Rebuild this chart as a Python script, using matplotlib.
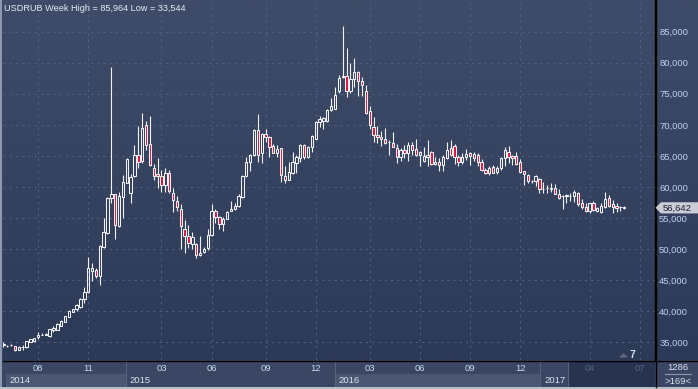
import numpy as np
import matplotlib
matplotlib.use('Agg')
import matplotlib.pyplot as plt
from matplotlib.patches import Rectangle, Polygon
from matplotlib.colors import LinearSegmentedColormap
import matplotlib.transforms as mtransforms
from matplotlib.lines import Line2D

plt.rcParams['font.family'] = ['Liberation Sans', 'DejaVu Sans']

# weekly USDRUB candles, one per week from mid 2014
opens = [
    34.55, 34.4, 34.5, 34.4, 33.8, 34.2, 34.2, 35.05, 35.15, 35.8,
    36.2, 36.25, 36.0, 36.9, 37.0, 37.7, 38.3, 39.1, 39.9, 40.3,
    40.7, 41.9, 43.1, 46.5, 46.6, 45.7, 50.3, 52.6, 58.2, 58.9,
    53.8, 58.4, 60.7, 59.0, 61.7, 65.1, 64.2, 69.9, 67.0, 63.1,
    62.1, 61.8, 60.3, 62.2, 59.1, 57.8, 56.5, 53.3, 52.1, 50.9,
    50.9, 49.0, 49.5, 50.1, 52.3, 56.2, 55.2, 54.0, 54.9, 56.2,
    56.5, 57.0, 58.4, 61.8, 64.1, 65.1, 69.2, 65.4, 68.5, 68.1,
    66.6, 65.5, 66.2, 61.8, 61.2, 62.3, 63.9, 64.7, 66.7, 64.8,
    66.4, 67.8, 70.5, 70.7, 70.7, 72.4, 72.6, 75.5, 77.7, 77.9,
    75.5, 77.4, 78.5, 77.0, 75.4, 72.2, 69.6, 68.4, 68.1, 67.7,
    67.3, 67.1, 66.3, 64.8, 66.0, 65.5, 66.7, 66.1, 65.2, 64.2,
    64.8, 65.7, 63.7, 64.1, 63.5, 64.6, 66.2, 66.6, 64.9, 64.0,
    64.8, 65.4, 65.3, 65.2, 64.1, 62.8, 62.2, 63.2, 62.4, 63.0,
    64.6, 65.6, 65.0, 65.0, 64.0, 62.5, 62.0, 60.9, 61.0, 61.3,
    59.6, 59.8, 59.7, 59.8, 58.9, 58.5, 58.6, 58.6, 58.6, 59.0,
    57.4, 56.8, 56.2, 57.4, 56.1, 56.0, 56.8, 58.2, 57.2, 56.9,
    56.7, 56.7]
highs = [
    35.0, 34.6, 34.8, 34.45, 34.4, 34.6, 35.2, 35.6, 35.75, 36.6,
    36.5, 36.5, 37.2, 37.6, 38.1, 38.6, 39.3, 40.2, 40.4, 41.2,
    42.1, 43.9, 48.7, 47.8, 46.9, 50.7, 55.0, 58.4, 79.3, 58.9,
    59.2, 61.9, 64.6, 62.1, 66.8, 69.8, 71.9, 70.7, 71.4, 63.7,
    64.7, 62.8, 63.0, 62.8, 59.8, 58.6, 57.2, 54.7, 53.9, 52.8,
    51.0, 52.1, 50.3, 53.2, 57.3, 56.4, 55.4, 55.2, 56.2, 57.7,
    57.4, 58.9, 61.9, 64.8, 65.3, 69.4, 71.7, 68.7, 69.4, 68.2,
    66.9, 66.7, 66.3, 63.4, 64.0, 65.6, 65.1, 67.0, 66.9, 66.6,
    68.3, 70.6, 71.5, 71.3, 72.6, 74.4, 76.1, 78.0, 85.964, 82.4,
    79.9, 80.8, 78.6, 77.7, 76.4, 73.1, 71.3, 69.8, 69.0, 69.5,
    67.5, 68.9, 66.9, 66.2, 66.7, 67.2, 67.3, 67.8, 65.8, 66.5,
    67.5, 65.8, 64.9, 64.7, 65.1, 67.2, 67.6, 66.9, 65.1, 65.4,
    66.1, 65.6, 65.6, 65.4, 64.5, 63.0, 63.4, 63.5, 63.3, 64.8,
    66.5, 66.6, 65.1, 65.6, 64.5, 62.6, 62.1, 61.2, 61.9, 61.4,
    60.8, 60.4, 60.6, 60.5, 59.6, 58.7, 58.8, 59.0, 59.5, 59.2,
    58.1, 57.4, 57.5, 57.7, 56.8, 57.4, 59.2, 58.7, 57.9, 57.4,
    57.0, 56.9]
lows = [
    34.3, 34.3, 34.4, 33.544, 33.7, 33.8, 34.1, 35.0, 35.1, 35.6,
    36.1, 36.1, 35.9, 36.6, 36.9, 37.6, 38.2, 39.0, 39.8, 40.1,
    40.6, 41.3, 42.9, 44.9, 45.3, 44.2, 50.1, 52.5, 57.5, 51.7,
    53.5, 55.0, 60.6, 57.4, 61.6, 63.0, 63.9, 66.0, 63.3, 61.1,
    59.8, 59.2, 59.2, 59.0, 56.0, 56.2, 50.0, 49.3, 50.1, 50.0,
    48.5, 48.9, 49.3, 49.9, 52.1, 54.2, 53.2, 52.9, 54.8, 56.1,
    56.3, 56.7, 58.3, 61.6, 62.6, 65.0, 64.1, 63.8, 67.3, 64.9,
    65.4, 64.8, 60.8, 60.7, 61.1, 62.1, 62.3, 64.1, 64.5, 64.7,
    65.7, 67.7, 69.6, 69.3, 70.5, 72.3, 72.5, 75.1, 77.6, 74.5,
    75.2, 76.1, 74.6, 74.6, 71.8, 69.4, 67.2, 67.1, 66.6, 66.9,
    65.2, 66.4, 63.9, 64.2, 64.7, 64.2, 65.2, 65.0, 63.3, 64.1,
    63.3, 63.5, 63.5, 62.6, 62.6, 64.5, 65.0, 63.7, 63.4, 63.7,
    64.3, 63.6, 64.2, 63.4, 62.6, 62.1, 61.9, 62.2, 62.1, 62.8,
    63.3, 63.9, 63.5, 63.5, 62.2, 60.3, 60.7, 60.7, 60.1, 59.1,
    59.0, 59.0, 59.2, 58.8, 58.1, 56.5, 57.4, 57.7, 57.6, 57.0,
    56.5, 55.9, 55.8, 56.1, 55.9, 55.8, 56.6, 56.7, 55.8, 55.9,
    56.1, 56.4]
closes = [
    34.65, 34.45, 34.6, 33.7, 34.3, 34.25, 35.15, 35.5, 35.7, 36.2,
    36.25, 36.3, 37.1, 37.3, 38.0, 38.5, 39.2, 40.1, 40.3, 41.0,
    42.0, 43.1, 46.9, 46.9, 45.7, 50.5, 52.8, 58.2, 58.9, 53.9,
    58.5, 60.8, 64.5, 61.6, 65.1, 64.1, 69.5, 66.8, 63.5, 61.7,
    61.7, 60.3, 62.2, 59.3, 57.9, 56.7, 53.7, 52.1, 51.0, 51.9,
    49.0, 49.4, 50.0, 52.3, 56.2, 55.2, 54.0, 54.8, 56.0, 56.4,
    57.0, 58.6, 61.8, 64.0, 65.1, 69.2, 65.2, 68.5, 68.0, 66.5,
    65.5, 66.1, 61.9, 61.1, 62.4, 64.0, 64.8, 66.8, 64.8, 66.5,
    68.2, 70.5, 71.0, 71.1, 72.4, 73.0, 74.8, 77.6, 77.8, 75.4,
    77.4, 78.5, 77.0, 76.4, 71.9, 70.0, 68.4, 68.1, 67.7, 67.1,
    67.2, 66.5, 64.8, 66.0, 65.4, 66.8, 66.0, 65.2, 65.6, 65.0,
    65.1, 63.7, 64.0, 63.6, 64.9, 66.0, 65.2, 64.8, 64.0, 64.8,
    65.3, 65.0, 64.6, 64.1, 62.8, 62.3, 63.1, 62.3, 63.0, 64.6,
    66.0, 64.8, 64.7, 63.7, 62.4, 62.1, 60.9, 61.0, 61.7, 59.6,
    59.7, 59.8, 59.8, 58.9, 58.2, 58.6, 58.7, 58.6, 59.2, 57.3,
    56.8, 56.2, 57.4, 56.3, 56.6, 56.9, 58.0, 56.9, 56.8, 56.6,
    56.7, 56.642]

# axis labelling (positions given as candle index)
month_ticks = [9, 22, 41, 54, 68, 81, 95, 108, 121, 134, 152, 165]
month_labels = ['08', '11', '03', '06', '09', '12', '03', '06', '09', '12', '04', '07']
year_starts = [0.7, 31.8, 86.0, 139.2]
year_labels = ['2014', '2015', '2016', '2017']
future_start = 146.4
price_ticks = [35, 40, 45, 50, 55, 60, 65, 70, 75, 80, 85]

W, H = 698, 389
def fx(px): return px / W
def fy(py): return 1 - py / H

BAND = '#3a4663'
GRID = '#53617f'
WHITE = '#f2f2f2'
RED = '#e2143c'
LBLUE = '#bcd2f0'

fig = plt.figure(figsize=(W / 100, H / 100), dpi=100, facecolor=BAND)

# gradient background for plot + price panel
bg = fig.add_axes([fx(3), fy(360), fx(698) - fx(3), fy(0) - fy(360)])
cmap = LinearSegmentedColormap.from_list('bg', ['#3f4c69', '#2c3957'])
bg.imshow(np.linspace(0, 1, 256).reshape(-1, 1), cmap=cmap, aspect='auto',
          extent=[0, 1, 0, 1], origin='upper')
bg.axis('off')

ax = fig.add_axes([fx(3), fy(360), fx(655) - fx(3), fy(0) - fy(360)])
ax.set_facecolor('none')
xlim = (-0.08, 168.96)
ax.set_xlim(xlim)
ax.set_ylim(32.15, 90.10)
for s in ['top', 'left', 'bottom']:
    ax.spines[s].set_visible(False)
ax.spines['right'].set_color('black')
ax.spines['right'].set_linewidth(1.0)

ax.set_xticks(month_ticks)
ax.tick_params(axis='x', length=0, labelbottom=False)
ax.yaxis.tick_right()
ax.set_yticks(price_ticks)
ax.set_yticklabels([f'{v:.3f}'.replace('.', ',') for v in price_ticks])
ax.tick_params(axis='y', length=0, pad=3, labelsize=6.8, labelcolor=LBLUE)
ax.grid(True, color=GRID, linestyle=(0, (2, 4)), linewidth=0.75)
ax.set_axisbelow(True)

# candles
bw = 0.62
for i, (o, h, l, c) in enumerate(zip(opens, highs, lows, closes)):
    lo, hi = min(o, c), max(o, c)
    ax.vlines(i, hi, h, color=WHITE, linewidth=0.8, zorder=3)
    ax.vlines(i, l, lo, color=WHITE, linewidth=0.8, zorder=3)
    face = 'none' if c >= o else RED
    ax.add_patch(Rectangle((i - bw / 2, lo), bw, hi - lo, facecolor=face,
                           edgecolor=WHITE, linewidth=0.75, zorder=4))

# last price tag
last = closes[-1]
bt = mtransforms.blended_transform_factory(fig.transFigure, ax.transData)
hh = 0.9
tag = Polygon([(fx(655.5), last), (fx(661), last + hh), (fx(698), last + hh),
               (fx(698), last - hh), (fx(661), last - hh)], closed=True,
              transform=bt, facecolor='#c9cdd6', edgecolor='none', zorder=10)
fig.add_artist(tag)
fig.text(fx(677), last, f'{last:.3f}'.replace('.', ','), transform=bt,
         ha='center', va='center', fontsize=6.8, color='#1c2030', zorder=11)

# time band
bx = fig.add_axes([fx(3), fy(387), fx(655) - fx(3), fy(361) - fy(387)])
bx.set_xlim(xlim)
bx.set_ylim(387, 361)
bx.axis('off')
bounds = year_starts + [future_start]
for k, (ys, yl) in enumerate(zip(year_starts, year_labels)):
    if k % 2 == 0:
        bx.add_patch(Rectangle((ys, 374), bounds[k + 1] - ys, 12.5,
                               facecolor='#4a5672', edgecolor='none'))
    if k > 0:
        bx.vlines(ys, 361, 387, color='#56627e', linewidth=0.8)
    bx.text(ys + 1.0, 380.5, yl, ha='left', va='center', fontsize=6.8,
            color='#dce4f2')
bx.add_patch(Rectangle((future_start, 361), xlim[1] - future_start, 26,
                       facecolor='#27334f', edgecolor='none'))
bx.vlines(future_start, 361, 387, color='#56627e', linewidth=0.8)
for t, lab in zip(month_ticks, month_labels):
    col = '#54647f' if t > future_start else '#c8d8f0'
    bx.text(t, 368.5, lab, ha='center', va='center', fontsize=6.8, color=col)

# frame lines
fig.add_artist(Line2D([fx(3), 1], [fy(360.5)] * 2, color='black', lw=1.0,
                      transform=fig.transFigure))
fig.add_artist(Line2D([fx(655.5)] * 2, [fy(387), 1], color='black', lw=1.0,
                      transform=fig.transFigure))
fig.add_artist(Rectangle((0, 0), fx(2), 1, transform=fig.transFigure,
                         facecolor='#8d99ae', edgecolor='none'))
fig.add_artist(Rectangle((0, 0), 1, 2 / H, transform=fig.transFigure,
                         facecolor='#b8bec8', edgecolor='none'))

# bottom-right counter box
fig.text(fx(678), fy(367.5), '1286', ha='center', va='center', fontsize=6.8,
         color='#d8e0ee')
fig.add_artist(Line2D([fx(665), fx(691)], [fy(374)] * 2, color='#8e98ac',
                      lw=0.8, transform=fig.transFigure))
fig.text(fx(678), fy(381), '>169<', ha='center', va='center', fontsize=6.8,
         color='#d8e0ee')

# small marker near bottom right of plot
fig.add_artist(Polygon([(fx(619), fy(357.5)), (fx(623.5), fy(353)), (fx(628), fy(357.5))],
                       closed=True, transform=fig.transFigure,
                       facecolor='#5d6882', edgecolor='none'))
fig.text(fx(632), fy(354.5), '7', ha='center', va='center', fontsize=7.5,
         color='#d4e4fa', fontweight='bold')

# title
fig.text(fx(4), fy(8.5), 'USDRUB Week High = 85,964 Low = 33,544', ha='left',
         va='center', fontsize=6.6, color='#e6ecf6')

fig.savefig('out.png', dpi=100, facecolor=fig.get_facecolor())
